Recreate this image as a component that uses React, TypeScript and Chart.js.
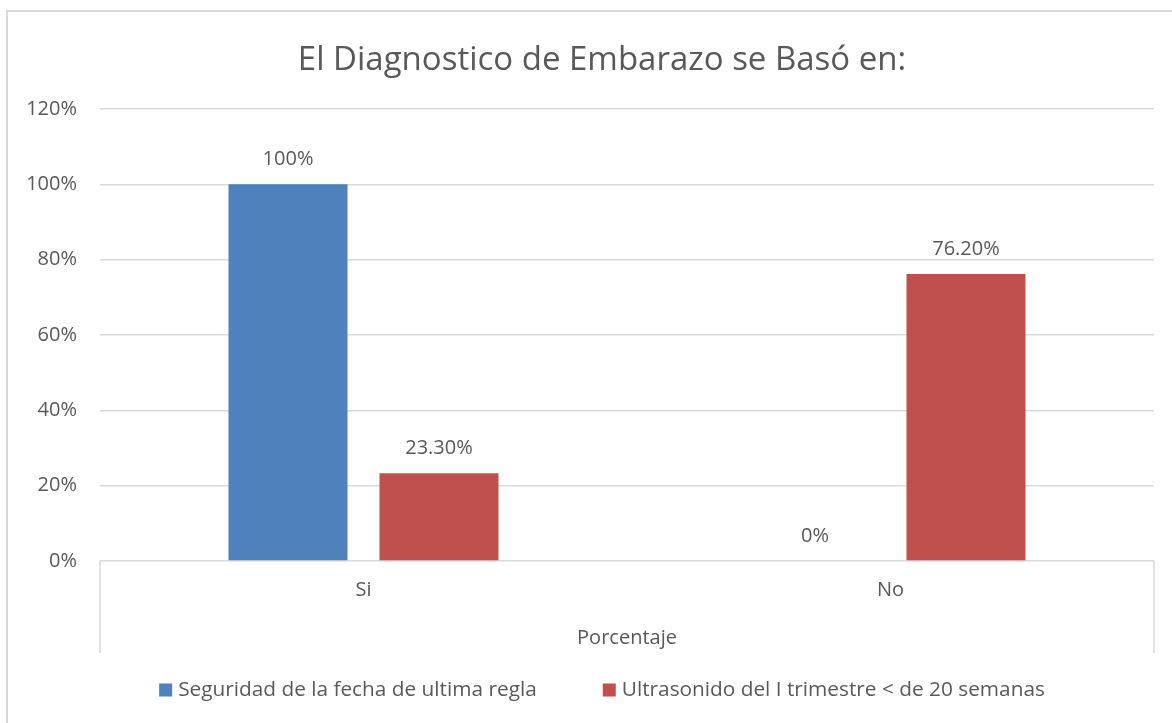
import React, { useEffect, useRef } from "react";
import { Chart, registerables } from "chart.js";

Chart.register(...registerables);

const chartTitle = "El Diagnostico de Embarazo se Basó en:";
const axisTitle = "Porcentaje";
const categories = ["Si", "No"];
const seriesNames = ["Seguridad de la fecha de ultima regla", "Ultrasonido del I trimestre < de 20 semanas"];
const seguridad = [100, 0];
const ultrasonido = [23.3, 76.2];
const seguridadLabels = ["100%", "0%"];
const ultrasonidoLabels = ["23.30%", "76.20%"];
const yMin = 0;
const yMax = 120;
const yStep = 20;

const colors = ["#4F81BD", "#C0504D"];
const textColor = "#595959";
const gridColor = "#D9D9D9";
const FONT = "'Open Sans', 'Noto Sans', sans-serif";
const FS = 20;
const LEGEND_FS = 20.8;

const W = 1188;
const H = 730;

export default function App() {
  const ref = useRef<HTMLCanvasElement | null>(null);

  useEffect(() => {
    if (!ref.current) return;
    const labelSets = [seguridadLabels, ultrasonidoLabels];

    const decor = {
      id: "decor",
      afterDatasetsDraw(chart: any) {
        const ctx = chart.ctx;
        ctx.save();
        ctx.fillStyle = textColor;
        ctx.font = `${FS}px ${FONT}`;
        ctx.textAlign = "center";
        ctx.textBaseline = "middle";
        chart.data.datasets.forEach((_: any, di: number) => {
          const meta = chart.getDatasetMeta(di);
          meta.data.forEach((bar: any, i: number) => {
            ctx.fillText(labelSets[di][i], bar.x, bar.y - 25);
          });
        });
        ctx.restore();
      },
      afterDraw(chart: any) {
        const ctx = chart.ctx;
        const a = chart.chartArea;
        ctx.save();
        ctx.strokeStyle = gridColor;
        ctx.lineWidth = 1.5;
        ctx.beginPath();
        ctx.moveTo(a.left, a.bottom);
        ctx.lineTo(a.left, a.bottom + 92);
        ctx.moveTo(a.right, a.bottom);
        ctx.lineTo(a.right, a.bottom + 92);
        ctx.stroke();
        ctx.fillStyle = textColor;
        ctx.textAlign = "center";
        ctx.textBaseline = "middle";
        ctx.font = `33px ${FONT}`;
        ctx.fillText(chartTitle, chart.width / 2, 49);
        ctx.font = `${FS}px ${FONT}`;
        ctx.fillText(axisTitle, (a.left + a.right) / 2, 626);
        ctx.font = `${LEGEND_FS}px ${FONT}`;
        const sq = 13;
        const gap = 6;
        const itemGap = 66;
        const w0 = ctx.measureText(seriesNames[0]).width;
        const w1 = ctx.measureText(seriesNames[1]).width;
        const total = sq + gap + w0 + itemGap + sq + gap + w1;
        let x = chart.width / 2 - total / 2;
        const ly = 678;
        ctx.textAlign = "left";
        [w0, w1].forEach((w, i) => {
          ctx.fillStyle = colors[i];
          ctx.fillRect(x, ly - sq / 2, sq, sq);
          ctx.fillStyle = textColor;
          ctx.fillText(seriesNames[i], x + sq + gap, ly);
          x += sq + gap + w + itemGap;
        });
        ctx.restore();
      },
    };

    const chart = new Chart(ref.current, {
      type: "bar",
      data: {
        labels: categories,
        datasets: [
          {
            label: seriesNames[0],
            data: seguridad,
            backgroundColor: colors[0],
            barPercentage: 0.788,
            categoryPercentage: 0.573,
          },
          {
            label: seriesNames[1],
            data: ultrasonido,
            backgroundColor: colors[1],
            barPercentage: 0.788,
            categoryPercentage: 0.573,
          },
        ],
      },
      options: {
        responsive: false,
        animation: false,
        layout: { padding: { top: 97, right: 42, left: 0, bottom: 0 } },
        plugins: {
          legend: { display: false },
          title: { display: false },
          tooltip: { enabled: false },
        },
        scales: {
          x: {
            grid: { display: false, drawTicks: false },
            border: { display: false },
            ticks: { color: textColor, font: { family: FONT, size: FS }, padding: 17 },
            afterFit: (s: any) => {
              s.height = H - 549;
            },
          },
          y: {
            min: yMin,
            max: yMax,
            ticks: {
              stepSize: yStep,
              color: textColor,
              font: { family: FONT, size: FS },
              padding: 23,
              callback: (v: any) => `${v}%`,
            },
            grid: { color: gridColor, drawTicks: false, lineWidth: 1.5 },
            border: { display: false },
            afterFit: (s: any) => {
              s.width = 92;
            },
          },
        },
      },
      plugins: [decor],
    });
    return () => chart.destroy();
  }, []);

  return (
    <div style={{ position: "fixed", left: 0, top: 0, width: 1172, height: 723, overflow: "hidden", background: "#fff" }}>
      <div
        style={{
          position: "absolute",
          left: 6,
          top: 10,
          width: W,
          height: H,
          border: `2px solid ${gridColor}`,
        }}
      >
        <canvas ref={ref} width={W} height={H} style={{ display: "block", width: W, height: H }} />
      </div>
    </div>
  );
}
